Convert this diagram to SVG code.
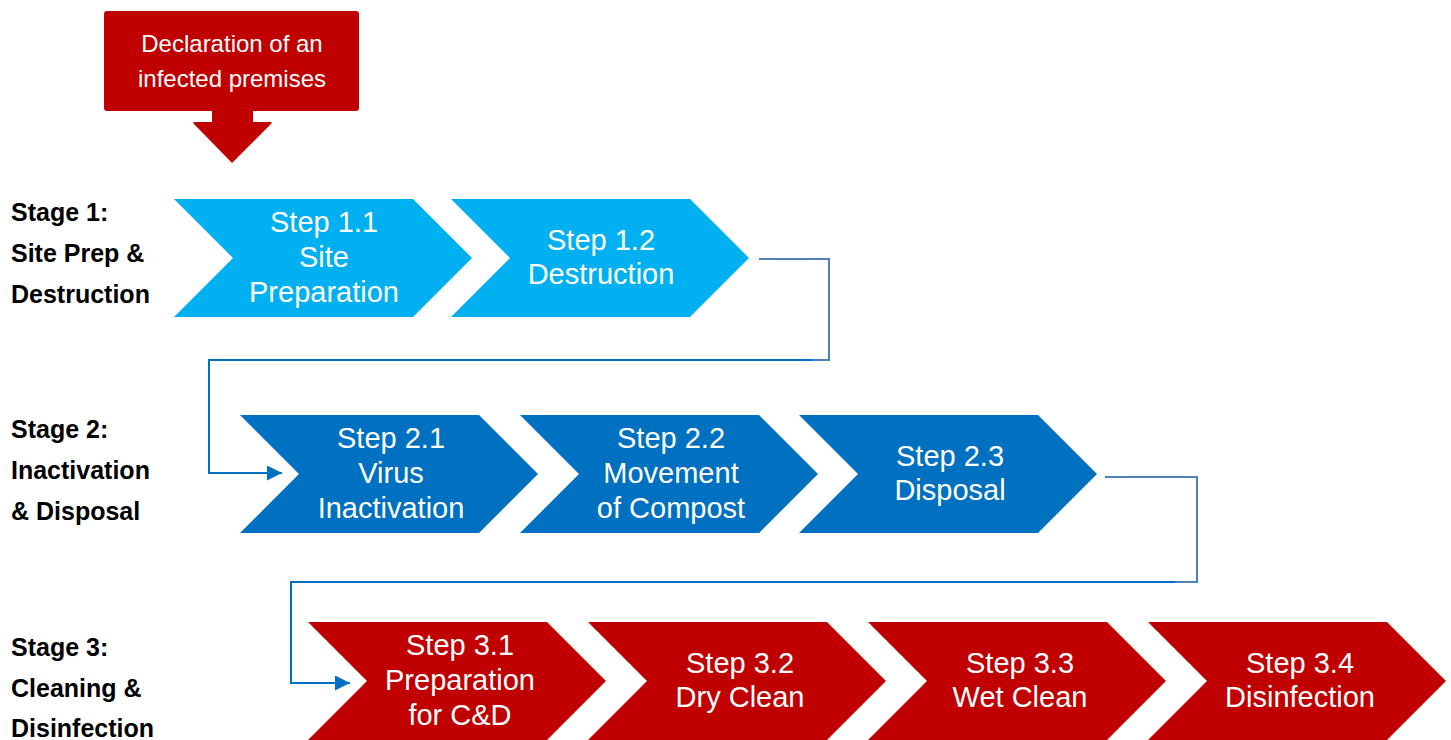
<svg xmlns="http://www.w3.org/2000/svg" width="1451" height="740" viewBox="0 0 1451 740">
<style>
  .step { font-family: "Liberation Sans", Arial, sans-serif; font-size: 29px; fill: #ffffff; text-anchor: middle; }
  .stage { font-family: "Liberation Sans", Arial, sans-serif; font-size: 25px; font-weight: bold; fill: #000000; }
  .callout { font-family: "Liberation Sans", Arial, sans-serif; font-size: 24px; fill: #ffffff; text-anchor: middle; }
  .c1 { fill: #00B0F0; }
  .c2 { fill: #0070C0; }
  .c3 { fill: #C00000; }
  .conn-a { fill: none; stroke: #4F81BD; stroke-width: 2; }
  .conn-b { fill: none; stroke: #0070C0; stroke-width: 2; }
</style>
<defs>
  <path id="chev" d="M0,0 H239 L298,59 L239,118 H0 L59,59 Z"/>
  <marker id="arr" markerUnits="userSpaceOnUse" markerWidth="16" markerHeight="16" refX="15" refY="7.5" orient="auto">
    <path d="M0,0 L15,7.5 L0,15 Z" fill="#0070C0"/>
  </marker>
</defs>
<rect width="1451" height="740" fill="#ffffff"/>

<g id="declaration">
  <path class="c3" d="M107,11 H356 Q359,11 359,14 V108 Q359,111 356,111 H253 V122 H270 Q273,122 271,124 L232,163 L194,124 Q192,122 195,122 H212 V111 H107 Q104,111 104,108 V14 Q104,11 107,11 Z"/>
  <text class="callout" x="232" y="52">Declaration of an</text>
  <text class="callout" x="232" y="87">infected premises</text>
</g>

<g id="stage1-label">
  <text class="stage" x="11" y="221">Stage 1:</text>
  <text class="stage" x="11" y="262">Site Prep &amp;</text>
  <text class="stage" x="11" y="303">Destruction</text>
</g>
<g id="stage2-label">
  <text class="stage" x="11" y="438">Stage 2:</text>
  <text class="stage" x="11" y="479">Inactivation</text>
  <text class="stage" x="11" y="520">&amp; Disposal</text>
</g>
<g id="stage3-label">
  <text class="stage" x="11" y="656">Stage 3:</text>
  <text class="stage" x="11" y="697">Cleaning &amp;</text>
  <text class="stage" x="11" y="737">Disinfection</text>
</g>

<g id="step1-1">
  <use href="#chev" class="c1" x="174" y="199"/>
  <text class="step" x="324" y="232">Step 1.1</text>
  <text class="step" x="324" y="267">Site</text>
  <text class="step" x="324" y="302">Preparation</text>
</g>
<g id="step1-2">
  <use href="#chev" class="c1" x="451" y="199"/>
  <text class="step" x="601" y="250">Step 1.2</text>
  <text class="step" x="601" y="284">Destruction</text>
</g>

<g id="step2-1">
  <use href="#chev" class="c2" x="240" y="415"/>
  <text class="step" x="391" y="448">Step 2.1</text>
  <text class="step" x="391" y="483">Virus</text>
  <text class="step" x="391" y="518">Inactivation</text>
</g>
<g id="step2-2">
  <use href="#chev" class="c2" x="520" y="415"/>
  <text class="step" x="671" y="448">Step 2.2</text>
  <text class="step" x="671" y="483">Movement</text>
  <text class="step" x="671" y="518">of Compost</text>
</g>
<g id="step2-3">
  <use href="#chev" class="c2" x="799" y="415"/>
  <text class="step" x="950" y="466">Step 2.3</text>
  <text class="step" x="950" y="500">Disposal</text>
</g>

<g id="step3-1">
  <use href="#chev" class="c3" x="308" y="622"/>
  <text class="step" x="460" y="655">Step 3.1</text>
  <text class="step" x="460" y="690">Preparation</text>
  <text class="step" x="460" y="725">for C&amp;D</text>
</g>
<g id="step3-2">
  <use href="#chev" class="c3" x="588" y="622"/>
  <text class="step" x="740" y="673">Step 3.2</text>
  <text class="step" x="740" y="707">Dry Clean</text>
</g>
<g id="step3-3">
  <use href="#chev" class="c3" x="868" y="622"/>
  <text class="step" x="1020" y="673">Step 3.3</text>
  <text class="step" x="1020" y="707">Wet Clean</text>
</g>
<g id="step3-4">
  <use href="#chev" class="c3" x="1148" y="622"/>
  <text class="step" x="1300" y="673">Step 3.4</text>
  <text class="step" x="1300" y="707">Disinfection</text>
</g>

<g id="connectors">
  <path class="conn-b" d="M814,360 H209 V473 H282" marker-end="url(#arr)"/>
  <path class="conn-a" d="M759,259 H829 V360 H812"/>
  <path class="conn-b" d="M1177,582 H291 V683 H350" marker-end="url(#arr)"/>
  <path class="conn-a" d="M1105,477 H1197 V582 H1175"/>
</g>
</svg>
